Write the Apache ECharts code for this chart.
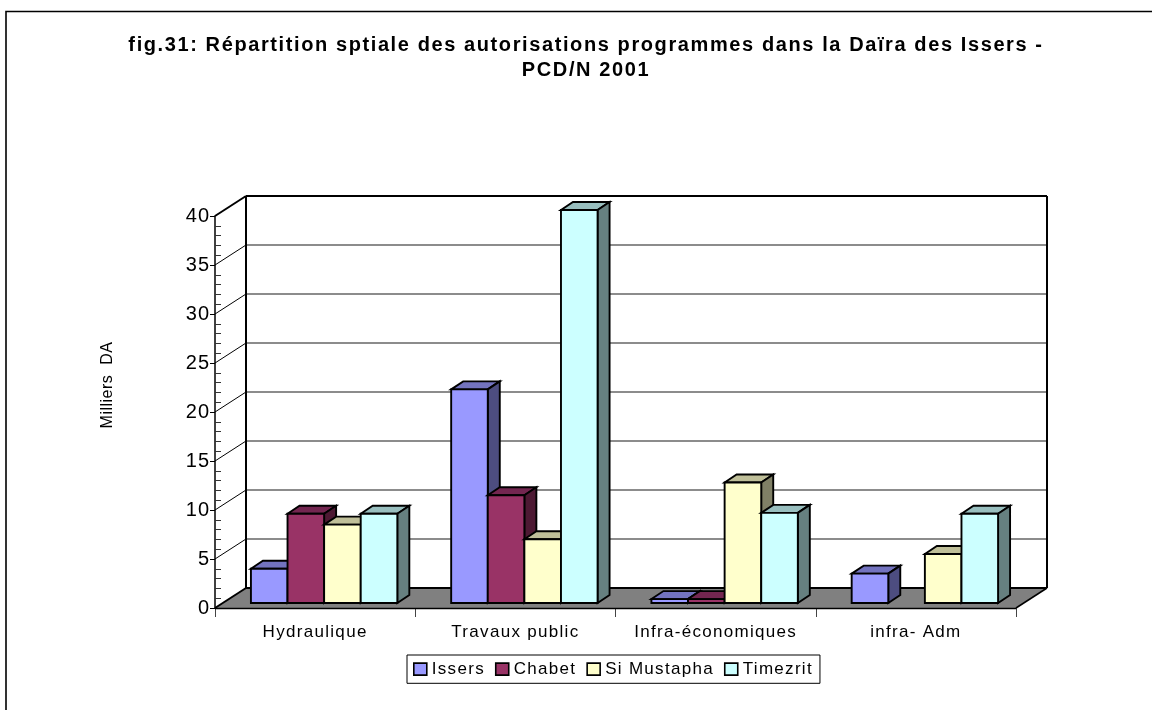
<!DOCTYPE html>
<html><head><meta charset="utf-8"><style>html,body{margin:0;background:#fff}#c{width:1152px;height:710px}</style>
<script src="https://cdn.jsdelivr.net/npm/echarts@6/dist/echarts.min.js"></script></head>
<body><div id="c"></div><script>
const categories = ['Hydraulique','Travaux public','Infra-économiques','infra- Adm'];
const seriesNames = ['Issers','Chabet','Si Mustapha','Timezrit'];
const issers = [3.5,21.8,0.4,3.0];
const chabet = [9.1,11.0,0.4,0];
const siMustapha = [8.0,6.5,12.3,5.0];
const timezrit = [9.1,40.1,9.2,9.1];
const values = [issers,chabet,siMustapha,timezrit];
const faces = [
 ['#9999ff','#7373bf','#4d4d80'],
 ['#993366','#732650','#4d1933'],
 ['#ffffcc','#bfbf99','#808066'],
 ['#ccffff','#99bfbf','#668080']
];
const wallDx=31, wallDy=-20, barDx=9, barDy=-5, depthDx=12, depthDy=-8, barW=36.6;
const font='"Liberation Sans"';
// letter spacing by font size: the reference text is tracked wider than the font's default
const tracking={20:1,17:1.3,16:0.5};
(function(){
  const P=CanvasRenderingContext2D.prototype;
  const apply=c=>{const m=/(\d+(?:\.\d+)?)px/.exec(c.font);
    c.letterSpacing=(/bold|700/.test(c.font)?1.6:((m&&tracking[+m[1]])||0))+'px';};
  const ft=P.fillText, mt=P.measureText;
  P.fillText=function(){apply(this);return ft.apply(this,arguments);};
  P.measureText=function(){apply(this);return mt.apply(this,arguments);};
})();
const chart=echarts.init(document.getElementById('c'));
function poly(points,fill,w){return {type:'polygon',shape:{points},style:{fill,stroke:w===0?'none':'#000',lineWidth:w===undefined?1.9:w,lineJoin:'miter'}};}
function line(x1,y1,x2,y2,w,c){return {type:'line',shape:{x1,y1,x2,y2},style:{stroke:c||'#000',lineWidth:w}};}
function renderWalls(params,api){
  const cs=params.coordSys; const L=cs.x,R=cs.x+cs.width;
  const y0=api.coord([0,0])[1], yT=api.coord([0,40])[1];
  const ch=[];
  ch.push(poly([[L,y0],[L+wallDx,y0+wallDy],[R+wallDx,y0+wallDy],[R,y0]],'#808080',0));
  for(let v=5;v<40;v+=5){
    const y=api.coord([0,v])[1];
    ch.push(line(L+wallDx,y+wallDy,R+wallDx,y+wallDy,1.5,'#666'));
    ch.push(line(L,y,L+wallDx,y+wallDy,1,'#000'));
  }
  ch.push(line(L,yT,L+wallDx,yT+wallDy,2));
  ch.push(line(L,y0,L+wallDx,y0+wallDy,2));
  ch.push(line(L+wallDx,yT+wallDy,R+wallDx,yT+wallDy,2));
  ch.push(line(L+wallDx,yT+wallDy,L+wallDx,y0+wallDy,2));
  ch.push(line(R+wallDx,yT+wallDy,R+wallDx,y0+wallDy,2));
  ch.push(line(L+wallDx,y0+wallDy,R+wallDx,y0+wallDy,2));
  ch.push(line(R,y0,R+wallDx,y0+wallDy,1.5));
  return {type:'group',children:ch};
}
function renderBar(si){return function(params,api){
  const cat=api.value(0), v=api.value(1);
  if(!v) return null;
  const cx=api.coord([cat,0])[0];
  const y0=api.coord([cat,0])[1], yt=api.coord([cat,v])[1];
  const x=cx+barDx+(si-2)*barW, xr=x+barW;
  const b=y0+barDy, t=yt+barDy;
  const f=faces[si];
  return {type:'group',children:[
    poly([[x,t],[x+depthDx,t+depthDy],[xr+depthDx,t+depthDy],[xr,t]],f[1]),
    poly([[xr,t],[xr+depthDx,t+depthDy],[xr+depthDx,b+depthDy],[xr,b]],f[2]),
    poly([[x,t],[xr,t],[xr,b],[x,b]],f[0])
  ]};
};}
const option={
  animation:false,backgroundColor:'#fff',
  title:{text:'fig.31: Répartition sptiale des autorisations programmes dans la Daïra des Issers -\nPCD/N 2001',
    left:581,top:28,textAlign:'center',
    textStyle:{fontFamily:font,fontSize:20,fontWeight:'bold',color:'#000',lineHeight:25}},
  legend:{data:seriesNames,left:407,top:655,padding:[5,7,5,6],itemGap:10,itemWidth:13,itemHeight:12,
    icon:'rect',borderColor:'#000',borderWidth:1,backgroundColor:'#fff',selectedMode:false,
    itemStyle:{borderColor:'#000',borderWidth:1.6},
    textStyle:{fontFamily:font,fontSize:17,color:'#000'}},
  grid:{left:215,right:136,top:216,bottom:102,containLabel:false},
  xAxis:{type:'category',data:categories,boundaryGap:true,
    axisLine:{show:false},
    axisTick:{show:true,alignWithLabel:false,length:9,lineStyle:{color:'#444',width:1}},
    axisLabel:{interval:0,fontFamily:font,fontSize:17,color:'#000',margin:15},splitLine:{show:false}},
  yAxis:{type:'value',min:0,max:40,interval:5,
    axisLine:{show:true,lineStyle:{color:'#000',width:1.5}},
    axisTick:{show:true,length:5,lineStyle:{color:'#000',width:1}},
    minorTick:{show:true,splitNumber:5,length:-6,lineStyle:{color:'#333',width:1}},
    axisLabel:{fontFamily:font,fontSize:20,color:'#000',margin:5,padding:[2,0,0,0]},splitLine:{show:false}},
  series:[
    {type:'custom',name:'walls',silent:true,z:1,renderItem:renderWalls,data:[[0,0]],encode:{x:0,y:1}},
    ...seriesNames.map((n,si)=>({type:'custom',name:n,z:2+si,renderItem:renderBar(si),
      itemStyle:{color:faces[si][0]},encode:{x:0,y:1},
      data:values[si].map((v,i)=>[i,v])}))
  ],
  graphic:[{type:'rect',z:-1,silent:true,shape:{x:6,y:11.5,width:1300,height:900},style:{fill:'none',stroke:'#000',lineWidth:1.6}},
    {type:'line',silent:true,z:100,shape:{x1:215,y1:608.5,x2:1016,y2:608.5},style:{stroke:'#000',lineWidth:1.6}},
    {type:'text',silent:true,x:108,y:385,rotation:Math.PI/2,style:{text:'Milliers  DA',fontFamily:font,fontSize:16,fill:'#000',align:'center',verticalAlign:'middle'}}]
};
chart.setOption(option);
</script></body></html>
